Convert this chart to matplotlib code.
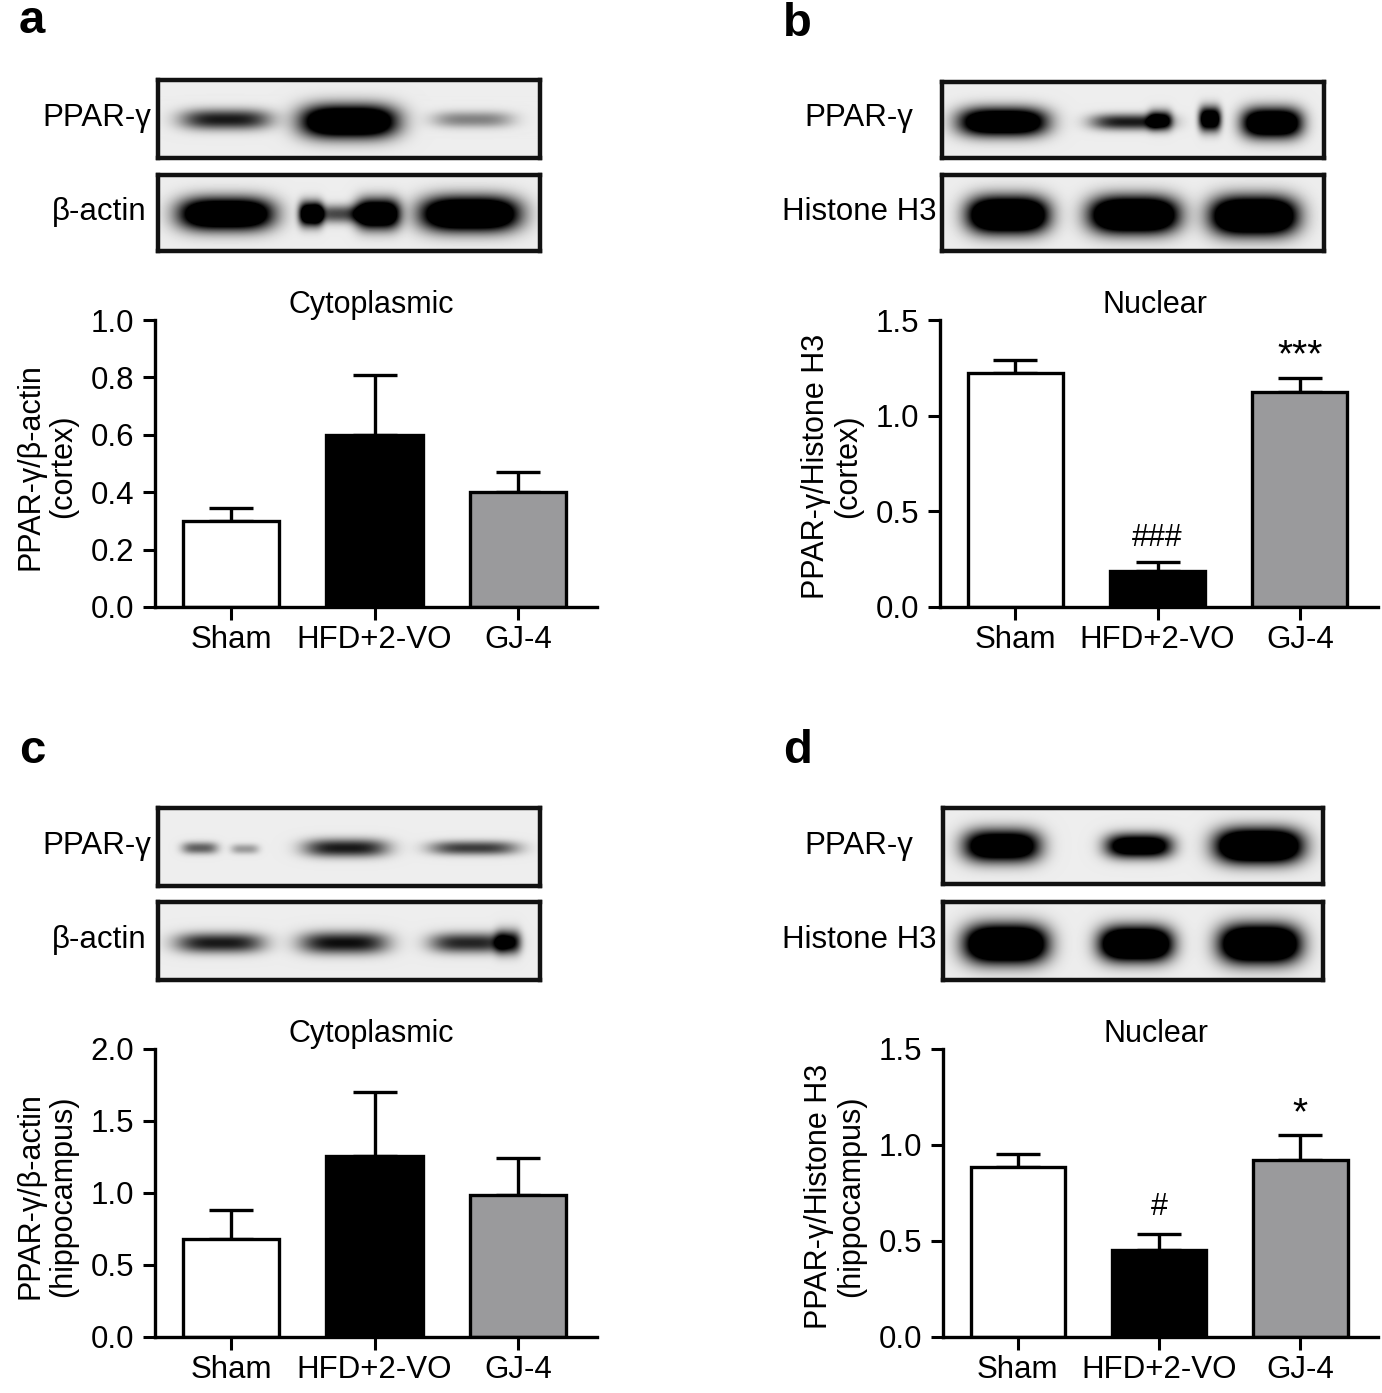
import numpy as np
import matplotlib
matplotlib.use("Agg")
import matplotlib.pyplot as plt

plt.rcParams['font.family'] = ['Liberation Sans', 'DejaVu Sans']

W, H = 1382, 1393

# ---------------- data ----------------
groups = ["Sham", "HFD+2-VO", "GJ-4"]
bar_colors = ["white", "black", "#9a9a9c"]

a_mean = [0.30, 0.60, 0.40]
a_err = [0.046, 0.209, 0.071]
b_mean = [1.223, 0.19, 1.125]
b_err = [0.069, 0.047, 0.074]
c_mean = [0.68, 1.26, 0.985]
c_err = [0.20, 0.44, 0.258]
d_mean = [0.888, 0.451, 0.922]
d_err = [0.066, 0.087, 0.132]

a_ticks = [0.0, 0.2, 0.4, 0.6, 0.8, 1.0]
b_ticks = [0.0, 0.5, 1.0, 1.5]
c_ticks = [0.0, 0.5, 1.0, 1.5, 2.0]
d_ticks = [0.0, 0.5, 1.0, 1.5]

b_marks = ["", "###", "***"]
b_mark_y = [None, 0.363, 1.34]
d_marks = ["", "#", "*"]
d_mark_y = [None, 0.676, 1.19]

# blot bands: (center x px, half width px, center y px, half height px, density)
blot_a_ppar = [(226, 45, 120, 10, 0.9), (349, 48, 122, 16, 1.8), (473, 40, 120, 8, 0.45)]
blot_a_actin = [(226, 47, 214, 16, 1.8), (311, 12, 214, 12, 1.6), (340, 25, 214, 9, 0.7),
                (378, 22, 214, 15, 1.7), (470, 49, 214, 17, 1.9)]
blot_b_ppar = [(1003, 44, 122, 14, 1.7), (1131, 40, 122, 8, 0.9), (1160, 12, 120, 10, 0.9),
               (1210, 11, 119, 12, 1.5), (1272, 30, 123, 15, 1.7)]
blot_b_h3 = [(1008, 40, 215, 18, 2.0), (1134, 44, 215, 18, 2.0), (1254, 43, 216, 19, 2.0)]
blot_c_ppar = [(200, 18, 848, 6, 0.6), (245, 14, 849, 5, 0.35), (346, 42, 848, 9, 0.9),
               (474, 44, 848, 7, 0.75)]
blot_c_actin = [(220, 44, 943, 10, 0.9), (344, 44, 943, 11, 0.95), (470, 40, 943, 10, 0.85),
                (508, 13, 942, 12, 0.9)]
blot_d_ppar = [(1002, 38, 846, 16, 1.6), (1139, 33, 846, 12, 1.5), (1259, 43, 846, 17, 2.0)]
blot_d_h3 = [(1006, 41, 944, 19, 2.0), (1136, 36, 944, 17, 2.0), (1260, 40, 944, 19, 2.0)]

fig = plt.figure(figsize=(W / 100, H / 100), dpi=100)


def px_axes(x0, y0, x1, y1):
    return fig.add_axes([x0 / W, 1 - y1 / H, (x1 - x0) / W, (y1 - y0) / H])


def blot(x0, y0, x1, y1, bands):
    ax = px_axes(x0, y0, x1, y1)
    xs = np.arange(x0, x1) + 0.5
    ys = np.arange(y0, y1) + 0.5
    XX, YY = np.meshgrid(xs, ys)
    dens = np.zeros_like(XX)
    for cx, hw, cy, hh, k in bands:
        dens += k * np.exp(-np.abs((XX - cx) / hw) ** 3.5) * np.exp(-np.abs((YY - cy) / hh) ** 2.2)
    img = 0.93 * (1 - np.clip(dens, 0, 1))
    ax.imshow(img, cmap="gray", vmin=0, vmax=1, extent=[x0, x1, y1, y0],
              aspect="auto", interpolation="bilinear")
    ax.set_xticks([])
    ax.set_yticks([])
    for s in ax.spines.values():
        s.set_linewidth(3.2)
        s.set_color("#111111")
    return ax


def bars(x0, y0, x1, y1, means, errs, ticks, ymax, title, ylabel, marks=None, mark_y=None,
         title_x=0.49):
    ax = px_axes(x0, y0, x1, y1)
    xpos = np.arange(len(groups))
    ax.bar(xpos, means, width=0.67, color=bar_colors, edgecolor="black", linewidth=2.4, zorder=2)
    ax.errorbar(xpos, means, yerr=[np.zeros(len(errs)), errs], fmt="none", ecolor="black",
                elinewidth=2.4, capsize=16, capthick=2.4, zorder=1)
    ax.set_xlim(-0.53, 2.55)
    ax.set_ylim(0, ymax)
    ax.set_yticks(ticks)
    ax.set_yticklabels([f"{t:.1f}" for t in ticks], fontsize=22.5)
    ax.set_xticks(xpos)
    ax.set_xticklabels(groups, fontsize=22.5)
    ax.tick_params(axis="both", direction="out", length=9, width=2.2, pad=6)
    ax.tick_params(axis="x", pad=4)
    for s in ["top", "right"]:
        ax.spines[s].set_visible(False)
    for s in ["left", "bottom"]:
        ax.spines[s].set_linewidth(2.4)
    ax.text(title_x, 1.052, title, transform=ax.transAxes, ha="center", va="center", fontsize=22)
    ax.text(-108 / (x1 - x0), 0.49, ylabel, transform=ax.transAxes, rotation=90,
            ha="center", va="center", fontsize=22, linespacing=1.12)
    if marks:
        for i, (m, yy) in enumerate(zip(marks, mark_y)):
            if m:
                fs = 28 if "*" in m else 22
                off = -0.02 * ymax if "*" in m else 0
                ax.text(xpos[i], yy + off, m, ha="center", va="center", fontsize=fs)
    return ax


# panel a
blot(158, 80, 540, 158, blot_a_ppar)
blot(158, 175, 540, 251, blot_a_actin)
bars(155, 320, 597, 607, a_mean, a_err, a_ticks, 1.0, "Cytoplasmic",
     "PPAR-γ/β-actin\n(cortex)")
# panel b
blot(942, 82, 1324, 158, blot_b_ppar)
blot(942, 175, 1324, 251, blot_b_h3)
bars(940, 320, 1378, 607, b_mean, b_err, b_ticks, 1.5, "Nuclear",
     "PPAR-γ/Histone H3\n(cortex)", b_marks, b_mark_y)
# panel c
blot(158, 808, 540, 886, blot_c_ppar)
blot(158, 902, 540, 980, blot_c_actin)
bars(155, 1049, 597, 1337, c_mean, c_err, c_ticks, 2.0, "Cytoplasmic",
     "PPAR-γ/β-actin\n(hippocampus)")
# panel d
blot(943, 808, 1323, 884, blot_d_ppar)
blot(943, 902, 1323, 980, blot_d_h3)
bars(943, 1049, 1378, 1337, d_mean, d_err, d_ticks, 1.5, "Nuclear",
     "PPAR-γ/Histone H3\n(hippocampus)", d_marks, d_mark_y)

# blot labels
def lab(x, y, s):
    fig.text(x / W, 1 - y / H, s, ha="right", va="center", fontsize=22.5)

lab(151, 118, "PPAR-γ")
lab(146, 212, "β-actin")
lab(913, 118, "PPAR-γ")
lab(936, 212, "Histone H3")
lab(151, 846, "PPAR-γ")
lab(146, 940, "β-actin")
lab(913, 846, "PPAR-γ")
lab(936, 940, "Histone H3")

# panel letters
for x, y, s in [(19, 33, "a"), (783, 36, "b"), (19, 763, "c"), (783, 763, "d")]:
    fig.text(x / W, 1 - y / H, s, ha="left", va="baseline", fontsize=34, fontweight="bold")

fig.savefig("out.png", dpi=100, facecolor="white")
